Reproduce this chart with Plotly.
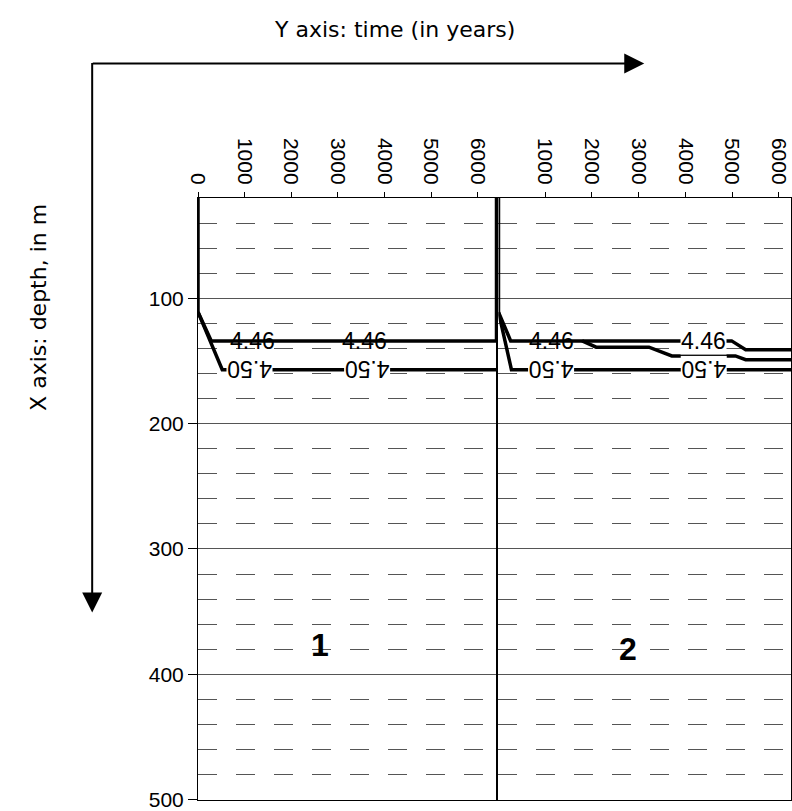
import plotly.graph_objects as go

# ---- data ----
depth_ticks = [100, 200, 300, 400, 500]
time_ticks_1 = [0, 1000, 2000, 3000, 4000, 5000, 6000]
time_ticks_2 = [1000, 2000, 3000, 4000, 5000, 6000]
depth_range = [500.3, 20]
time_range_1 = [0, 6400]
time_range_2 = [0, 6260]

# panel 1 contours
p1_446_t = [0, 0, 285, 6400, 6400]
p1_446_d = [20, 111, 134, 134, 20]
p1_450_t = [0, 520, 6400]
p1_450_d = [111, 157, 157]
# panel 2 contours
p2_446_t = [0, 0, 260, 4990, 5290, 6260]
p2_446_d = [20, 111, 134, 134, 141, 141]
p2_44x_t = [1790, 2090, 3220, 3710, 5070, 5290, 6260]
p2_44x_d = [134, 139, 139, 146, 146, 149, 149]
p2_450_t = [0, 277, 6260]
p2_450_d = [111, 157, 157]

# contour labels
lab_p1_446_t = [1160, 3580]
lab_p1_446_d = [134, 134]
lab_p1_450_t = [1115, 3630]
lab_p1_450_d = [157, 157]
lab_p2_446_t = [1130, 4390]
lab_p2_446_d = [134, 134]
lab_p2_450_t = [1130, 4390]
lab_p2_450_d = [157, 157]

panel_names = ["1", "2"]
panel_label_t = [2620, 2770]
panel_label_d = [377, 380]

FONT = "Liberation Sans, Arial, sans-serif"
TFONT = "DejaVu Sans, sans-serif"
LINE_W = 3.5

fig = go.Figure()
for t, d, xa, ya in [
    (p1_446_t, p1_446_d, "x", "y"),
    (p1_450_t, p1_450_d, "x", "y"),
    (p2_446_t, p2_446_d, "x2", "y2"),
    (p2_44x_t, p2_44x_d, "x2", "y2"),
    (p2_450_t, p2_450_d, "x2", "y2"),
]:
    fig.add_trace(go.Scatter(x=t, y=d, xaxis=xa, yaxis=ya, mode="lines",
                             line=dict(color="black", width=LINE_W),
                             showlegend=False, hoverinfo="skip"))

annotations = []
def lab(ts, ds, text, xr, yr, angle, bg):
    for t, d in zip(ts, ds):
        annotations.append(dict(x=t, y=d, xref=xr, yref=yr, text=text,
                                showarrow=False, textangle=angle,
                                xanchor="center", yanchor="middle",
                                font=dict(family=FONT, size=23, color="black"),
                                bgcolor=bg, borderpad=0))

lab(lab_p1_446_t, lab_p1_446_d, "4.46", "x", "y", 0, "rgba(0,0,0,0)")
lab(lab_p1_450_t, lab_p1_450_d, "4.50", "x", "y", 180, "white")
lab(lab_p2_446_t[:1], lab_p2_446_d[:1], "4.46", "x2", "y2", 0, "rgba(0,0,0,0)")
lab(lab_p2_446_t[1:], lab_p2_446_d[1:], "4.46", "x2", "y2", 0, "white")
lab(lab_p2_450_t, lab_p2_450_d, "4.50", "x2", "y2", 180, "white")

for name, t, d, xr, yr in zip(panel_names, panel_label_t, panel_label_d, ["x", "x2"], ["y", "y2"]):
    annotations.append(dict(x=t, y=d, xref=xr, yref=yr, text="<b>%s</b>" % name,
                            showarrow=False, xanchor="center", yanchor="middle",
                            font=dict(family=FONT, size=32, color="black")))

# titles and arrows (paper coords; plot area 198..792 x 198..802 px)
W0, H0, PW, PH = 198, 198, 594, 604
def px(xp): return (xp - W0) / PW
def py(yp): return (H0 + PH - yp) / PH

annotations.append(dict(x=px(395), y=py(29), xref="paper", yref="paper",
                        xanchor="center", yanchor="middle",
                        text="Y axis: time (in years)", showarrow=False,
                        font=dict(family=TFONT, size=22, color="black")))
annotations.append(dict(x=px(38), y=py(308), xref="paper", yref="paper",
                        xanchor="center", yanchor="middle",
                        text="X axis: depth, in m", showarrow=False, textangle=-90,
                        font=dict(family=TFONT, size=22, color="black")))
annotations.append(dict(x=px(645), y=py(63), xref="paper", yref="paper", text="",
                        showarrow=True, ax=92 - 645, ay=0, axref="pixel", ayref="pixel",
                        arrowhead=2, arrowsize=2, arrowwidth=2, arrowcolor="black"))
annotations.append(dict(x=px(92), y=py(614), xref="paper", yref="paper", text="",
                        showarrow=True, ax=0, ay=63 - 614, axref="pixel", ayref="pixel",
                        arrowhead=2, arrowsize=2, arrowwidth=2, arrowcolor="black"))

xcommon = dict(side="top", tickangle=90, ticks="outside", ticklen=5, tickcolor="black",
               showline=True, linecolor="black", linewidth=1, mirror=True,
               showgrid=False, zeroline=False, ticklabeloverflow="allow",
               tickfont=dict(family=FONT, size=21, color="black"))
ycommon = dict(range=depth_range, tickvals=depth_ticks, ticks="outside", ticklen=9,
               tickcolor="black", showline=True, linecolor="black", linewidth=1,
               mirror=True, showgrid=True, gridcolor="#555", gridwidth=1, zeroline=False,
               ticklabeloverflow="allow",
               minor=dict(dtick=20, tick0=0, showgrid=True, gridcolor="#555",
                          gridwidth=1, griddash="19px,19px", ticks=""),
               tickfont=dict(family=FONT, size=21, color="black"))

split = (497 - W0) / PW
fig.update_layout(
    width=792, height=811,
    margin=dict(l=W0, r=0, t=H0, b=811 - H0 - PH),
    paper_bgcolor="white", plot_bgcolor="white",
    xaxis=dict(domain=[0, split], range=time_range_1, tickvals=time_ticks_1,
               anchor="y", **xcommon),
    xaxis2=dict(domain=[(499 - W0) / PW, 1], range=time_range_2, tickvals=time_ticks_2,
                anchor="y2", **xcommon),
    yaxis=dict(anchor="x", **ycommon),
    yaxis2=dict(anchor="x2", matches="y", showticklabels=False, **ycommon),
    annotations=annotations,
    showlegend=False,
)
fig.update_layout(yaxis2=dict(ticks=""))

fig.write_html("out.html")
